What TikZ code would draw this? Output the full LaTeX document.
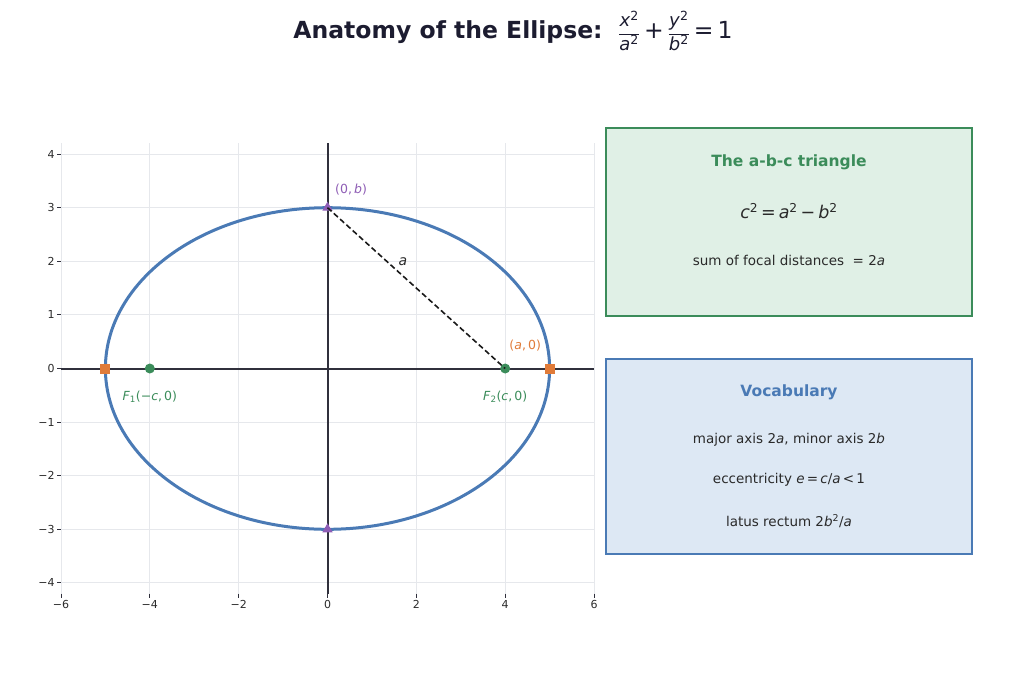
\documentclass[tikz,border=0pt]{standalone}
\usepackage{fontspec}
\setmainfont{DejaVu Sans}
\usetikzlibrary{positioning, shapes.geometric}

\definecolor{ellblue}{HTML}{4A7AB5}
\definecolor{focgreen}{HTML}{3B8C5A}
\definecolor{vertorange}{HTML}{E07B39}
\definecolor{covpurple}{HTML}{8E5DB5}
\definecolor{titlenavy}{HTML}{1C1C30}
\definecolor{inkgray}{HTML}{2A2A2A}
\definecolor{axisgray}{HTML}{30303C}
\definecolor{gridgray}{HTML}{E6E8EC}
\definecolor{greenfill}{HTML}{E0F0E6}
\definecolor{bluefill}{HTML}{DDE8F4}

\newcommand{\mv}[1]{\textit{#1}}
\newcommand{\sq}{\textsuperscript{2}}

\begin{document}
\begin{tikzpicture}[x=1pt, y=-1pt,
        ticklabel/.style={font=\fontsize{11}{13}\selectfont, text=inkgray, inner sep=2pt},
        pointlabel/.style={font=\fontsize{12.5}{14}\selectfont, inner sep=1pt},
        focus/.style={circle, fill=focgreen, minimum size=10pt, inner sep=0pt},
        vertex/.style={rectangle, fill=vertorange, minimum size=10pt, inner sep=0pt},
        covertex/.style={regular polygon, regular polygon sides=3, fill=covpurple, minimum size=12pt, inner sep=0pt},
        infobox/.style={rectangle, line width=2.5pt, minimum width=366pt},
        boxtitle/.style={font=\bfseries\fontsize{15.5}{18}\selectfont},
        boxline/.style={font=\fontsize{13.5}{16}\selectfont, text=inkgray}
    ]
    \useasboundingbox (0,0) rectangle (1024,683);

    \node[font=\bfseries\fontsize{23.5}{28}\selectfont, text=titlenavy] (title) at (513,31)
        {Anatomy of the Ellipse:\enspace\,{\mdseries\fontsize{18}{21}\selectfont$\displaystyle
        \frac{\mbox{\mv{x}\sq}}{\mbox{\mv{a}\sq}}$}{\mdseries\,+\,}{\mdseries\fontsize{18}{21}\selectfont$\displaystyle
        \frac{\mbox{\mv{y}\sq}}{\mbox{\mv{b}\sq}}$}{\mdseries\,=\,1}};

    % plot in data coordinates
    \begin{scope}[shift={(327.5pt,-368.5pt)}, x=44.42pt, y=53.6pt]
        \foreach \gx in {-6,-4,...,6}
            \draw[gridgray, line width=0.9pt] (\gx,-4.2) -- (\gx,4.2);
        \foreach \gy in {-4,...,4}
            \draw[gridgray, line width=0.9pt] (-6,\gy) -- (6,\gy);
        \draw[axisgray, line width=2pt] (-6,0) -- (6,0);
        \draw[axisgray, line width=2pt] (0,-4.2) -- (0,4.2);

        \foreach \gy/\lab in {-4/−4, -3/−3, -2/−2, -1/−1, 0/0, 1/1, 2/2, 3/3, 4/4}
            \draw[axisgray, line width=0.9pt] (-6,\gy) -- ++(-4pt,0) node[ticklabel, anchor=east] {\lab};
        \foreach \gx/\lab in {-6/−6, -4/−4, -2/−2, 0/0, 2/2, 4/4, 6/6}
            \draw[axisgray, line width=0.9pt] (\gx,-4.2) -- ++(0,-4pt) node[ticklabel, anchor=north] {\lab};

        \draw[ellblue, line width=3pt] (0,0) ellipse [x radius=5, y radius=3];

        \node[vertex] (V1) at (-5,0) {};
        \node[vertex] (V2) at (5,0) {};
        \node[focus] (F1) at (-4,0) {};
        \node[focus] (F2) at (4,0) {};
        \node[covertex] (B1) at (0,3) {};
        \node[covertex] (B2) at (0,-3) {};

        \draw[black!90, line width=1.6pt, dash pattern=on 5.5pt off 3pt] (B1.center) -- (F2.center);
        \node[pointlabel, font=\fontsize{14}{16}\selectfont, text=inkgray] (alab) at (1.7,2.0) {\mv{a}};

        \node[pointlabel, text=covpurple] (B1lab) at (0.53,3.33) {(0,\,\mv{b})};
        \node[pointlabel, text=vertorange] (V2lab) at (4.45,0.42) {(\mv{a},\,0)};
        \node[pointlabel, text=focgreen] (F1lab) at (-4,-0.53) {\mv{F}\textsubscript{1}(−\mv{c},\,0)};
        \node[pointlabel, text=focgreen] (F2lab) at (4,-0.53) {\mv{F}\textsubscript{2}(\mv{c},\,0)};
    \end{scope}

    \node[infobox, draw=focgreen, fill=greenfill, minimum height=188pt] (abcbox) at (789,222) {};
    \node[boxtitle, text=focgreen] (abctitle) at (789,162) {The a-b-c triangle};
    \node[font=\fontsize{17.5}{20}\selectfont, text=inkgray] (abcrule) at (789,211)
        {\mv{c}\sq\,=\,\mv{a}\sq\,−\,\mv{b}\sq};
    \node[boxline] (abcsum) at (789,260) {sum of focal distances \ = 2\mv{a}};

    \node[infobox, draw=ellblue, fill=bluefill, minimum height=195pt] (vocbox) at (789,456.5) {};
    \node[boxtitle, text=ellblue] (voctitle) at (789,392) {Vocabulary};
    \node[boxline] (vocaxes) at (789,440) {major axis 2\mv{a}, minor axis 2\mv{b}};
    \node[boxline] (vocecc) at (789,480) {eccentricity \mv{e}\,=\,\mv{c}/\mv{a}\,<\,1};
    \node[boxline] (voclatus) at (789,521) {latus rectum 2\mv{b}\sq/\mv{a}};
\end{tikzpicture}
\end{document}
